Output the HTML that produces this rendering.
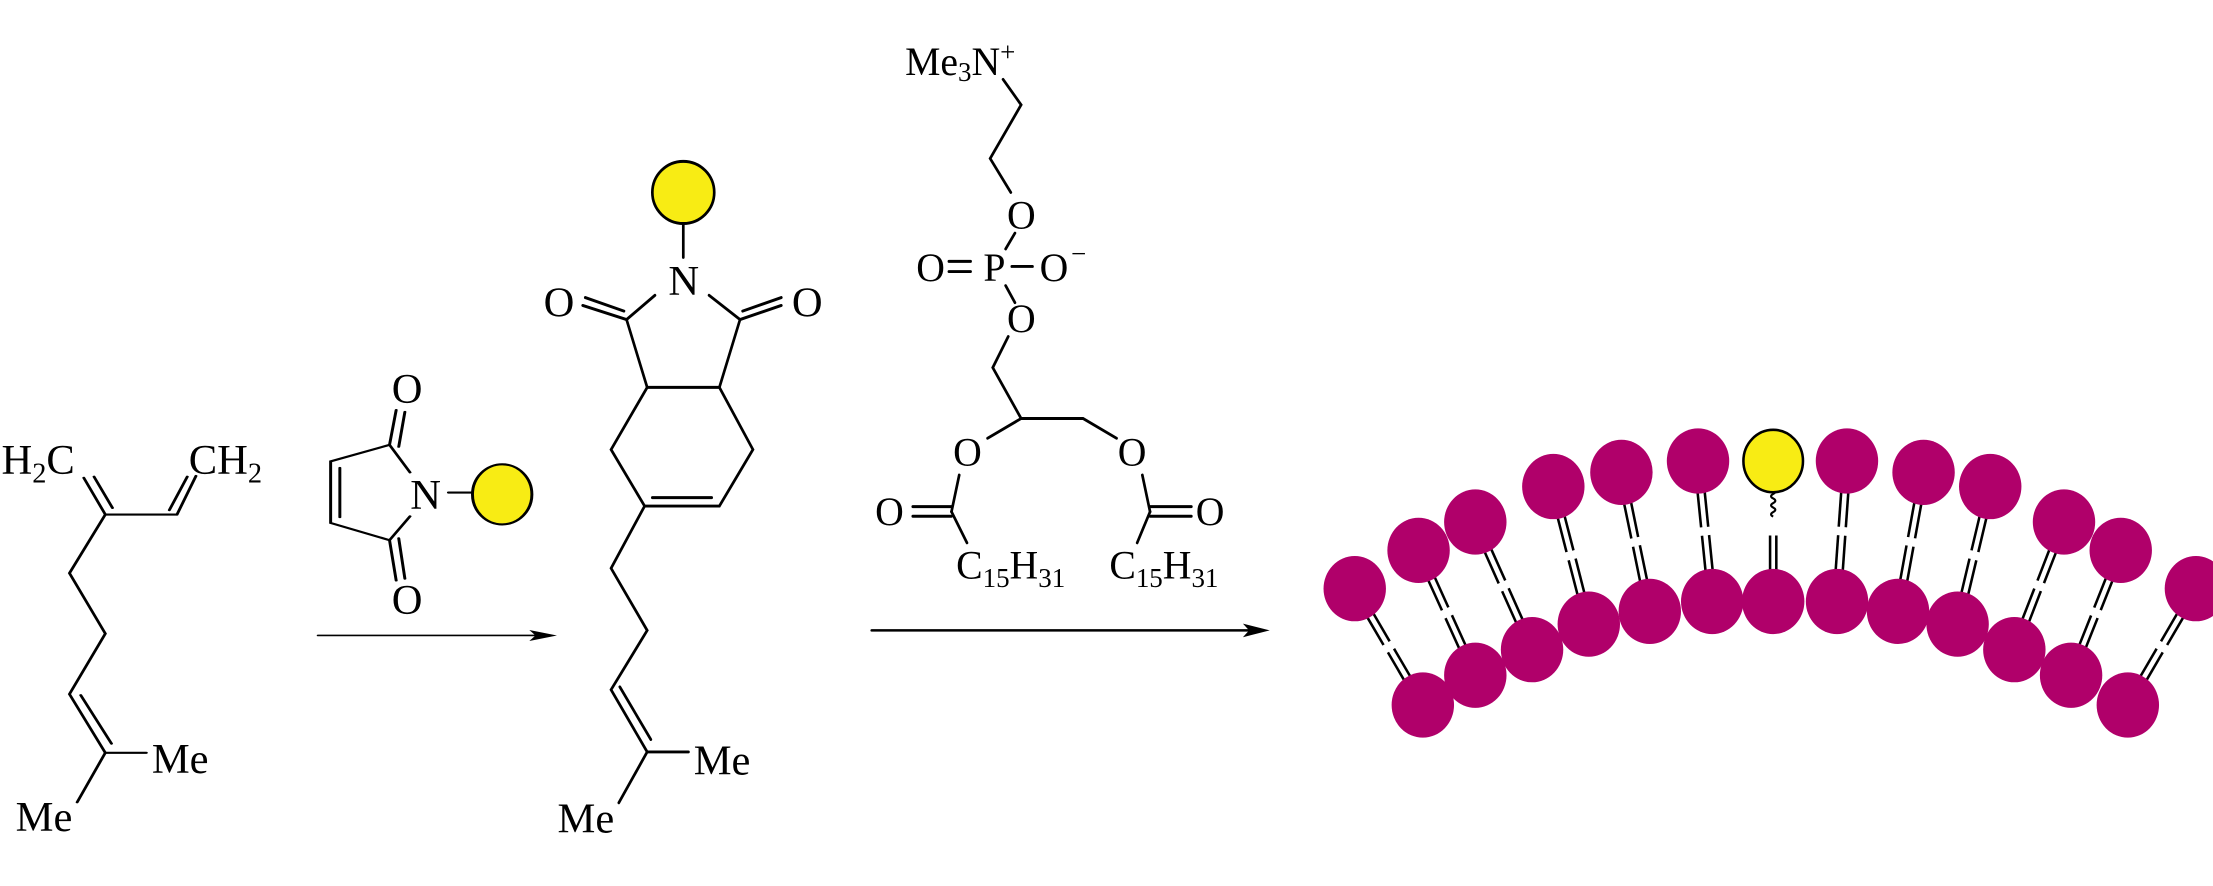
<!DOCTYPE html>
<html><head><meta charset="utf-8"><style>
html,body{margin:0;padding:0;background:#fff;}
svg{display:block;}
text{font-family:"Liberation Serif",serif;fill:#000;}
</style></head><body>
<svg id="s" width="2213" height="886" viewBox="0 0 1560 624.6" xmlns="http://www.w3.org/2000/svg">
<rect x="0" y="0" width="1560" height="624.6" fill="#fff"/>
<g transform="translate(2,333) scale(0.361,0.2584) translate(0,-440)" stroke="#000" stroke-width="5.8" fill="none" stroke-linecap="round">
<line x1="200" y1="555" x2="158" y2="455"/><line x1="178" y1="452" x2="214" y2="537"/>
<line x1="200" y1="555" x2="340" y2="555"/>
<line x1="340" y1="555" x2="377" y2="450"/><line x1="325" y1="543" x2="360" y2="452"/>
<polyline points="200,555 130,715 200,880 130,1045 200,1205"/>
<line x1="152" y1="1048" x2="212" y2="1180"/>
<line x1="200" y1="1205" x2="280" y2="1205"/><line x1="200" y1="1205" x2="145" y2="1340"/>
<polyline points="795,440 755,365 640,410 640,578 755,625 795,560"/>
<line x1="658" y1="428" x2="658" y2="562"/>
<line x1="755" y1="365" x2="768" y2="270"/><line x1="773" y1="370" x2="785" y2="275"/>
<line x1="755" y1="625" x2="768" y2="735"/><line x1="773" y1="620" x2="785" y2="730"/>
<line x1="870" y1="495" x2="915" y2="495"/>
<ellipse cx="975" cy="500" rx="58" ry="82" fill="#F8EC14"/>
<line x1="615" y1="885" x2="1050" y2="885" stroke-width="4.5"/>
<polygon points="1082,885 1028,870 1040,885 1028,900" fill="#000" stroke="none"/>
</g>
<g transform="translate(638,50) scale(0.3636,0.3984) translate(-785,-125)" stroke="#000" stroke-width="5.2" fill="none" stroke-linecap="round">
<ellipse cx="355" cy="340" rx="60" ry="55" fill="#F8EC14"/>
<line x1="355" y1="395" x2="355" y2="455"/>
<line x1="300" y1="522" x2="245" y2="565"/><line x1="405" y1="522" x2="465" y2="565"/>
<line x1="245" y1="565" x2="160" y2="540"/><line x1="240" y1="550" x2="165" y2="526"/>
<line x1="465" y1="565" x2="545" y2="540"/><line x1="470" y1="550" x2="545" y2="526"/>
<polyline points="245,565 285,685 425,685 465,565"/>
<polyline points="285,685 215,795 280,895 425,895 490,795 425,685"/>
<line x1="295" y1="880" x2="410" y2="880"/>
<polyline points="280,895 215,1005 285,1115 215,1220 285,1330"/>
<line x1="232" y1="1215" x2="292" y2="1308"/>
<line x1="285" y1="1330" x2="365" y2="1330"/><line x1="285" y1="1330" x2="230" y2="1420"/>
<polyline points="975,140 1010,185 950,280 990,340"/>
<line x1="980" y1="440" x2="998" y2="412"/><line x1="980" y1="505" x2="998" y2="535"/>
<line x1="870" y1="462" x2="912" y2="462"/><line x1="870" y1="480" x2="912" y2="480"/>
<line x1="992" y1="471" x2="1032" y2="471"/>
<polyline points="985,595 955,650 1010,740 945,775"/>
<polyline points="1010,740 1130,740 1195,775"/>
<line x1="890" y1="840" x2="875" y2="905"/>
<line x1="875" y1="896" x2="800" y2="896"/><line x1="875" y1="913" x2="800" y2="913"/>
<line x1="875" y1="905" x2="905" y2="960"/>
<line x1="1245" y1="840" x2="1260" y2="905"/>
<line x1="1260" y1="896" x2="1340" y2="896"/><line x1="1260" y1="913" x2="1340" y2="913"/>
<line x1="1260" y1="905" x2="1235" y2="960"/>
<line x1="720" y1="1115" x2="1460" y2="1115" stroke-width="4.5"/>
<polygon points="1492,1115 1440,1103 1452,1115 1440,1127" fill="#000" stroke="none"/>
</g>
<g font-size="30">
<text x="1" y="334">H<tspan font-size="20" dy="6">2</tspan><tspan dy="-6">C</tspan></text>
<text x="133" y="334">CH<tspan font-size="20" dy="6">2</tspan></text>
<text x="107" y="545">Me</text>
<text x="11" y="586">Me</text>
<text x="287" y="284" text-anchor="middle">O</text>
<text x="300" y="359" text-anchor="middle">N</text>
<text x="287" y="433" text-anchor="middle">O</text>
<text x="482" y="208" text-anchor="middle">N</text>
<text x="394" y="223" text-anchor="middle">O</text>
<text x="569" y="223" text-anchor="middle">O</text>
<text x="489" y="546">Me</text>
<text x="393" y="587">Me</text>
</g>
<g font-size="28">
<text x="638" y="53">Me<tspan font-size="19" dy="4">3</tspan><tspan dy="-4">N</tspan><tspan font-size="19" dy="-10">+</tspan></text>
<text x="720" y="161" text-anchor="middle">O</text>
<text x="656" y="198" text-anchor="middle">O</text>
<text x="701" y="198" text-anchor="middle">P</text>
<text x="743" y="198" text-anchor="middle">O</text>
<text x="755" y="185" font-size="19">−</text>
<text x="720" y="234" text-anchor="middle">O</text>
<text x="682" y="328" text-anchor="middle">O</text>
<text x="798" y="328" text-anchor="middle">O</text>
<text x="627" y="370" text-anchor="middle">O</text>
<text x="853" y="370" text-anchor="middle">O</text>
<text x="674" y="408">C<tspan font-size="19" dy="6">15</tspan><tspan dy="-6">H</tspan><tspan font-size="19" dy="6">31</tspan></text>
<text x="782" y="408">C<tspan font-size="19" dy="6">15</tspan><tspan dy="-6">H</tspan><tspan font-size="19" dy="6">31</tspan></text>
</g>
<g id="mem"></g>
</svg>
<script>
(function(){
var outer=[[955,415],[1000,388],[1040,368],[1095,343],[1143,333],[1197,325],[1250,325],[1302,325],[1356,333],[1403,343],[1455,368],[1495,388],[1548,415]];
var inner=[[1003,497],[1040,476],[1080,458],[1120,440],[1163,431],[1207,424],[1250,424],[1295,424],[1338,431],[1380,440],[1420,458],[1460,476],[1500,497]];
var r=22,g=document.getElementById('mem'),h='';
function ln(a,b,c,d){return '<line x1="'+a.toFixed(1)+'" y1="'+b.toFixed(1)+'" x2="'+c.toFixed(1)+'" y2="'+d.toFixed(1)+'" stroke="#000" stroke-width="1.8"/>';}
for(var i=0;i<13;i++){
 var o=outer[i],n=inner[i],dx=n[0]-o[0],dy=n[1]-o[1],L=Math.sqrt(dx*dx+dy*dy),ux=dx/L,uy=dy/L,px=-uy,py=ux;
 var sx=o[0]+ux*(r-2),sy=o[1]+uy*(r-2),ex=n[0]-ux*(r-2),ey=n[1]-uy*(r-2);
 var mx=(sx+ex)/2,my=(sy+ey)/2,gp=3;
 if(i==6){
  var p='M'+sx+','+sy;
  for(var k=1;k<=6;k++){var yy=sy+k*3.2;p+=' Q'+(sx+(k%2?3:-3))+','+(yy-1.6)+' '+sx+','+yy;}
  h+='<path d="'+p+'" fill="none" stroke="#000" stroke-width="1.5"/>';
  for(var s=-1;s<=1;s+=2){h+=ln(mx+px*2.2*s,my+gp,ex+px*2.2*s,ey);}
 } else {
  for(var s=-1;s<=1;s+=2){var ox=px*2.5*s,oy=py*2.5*s;
   h+=ln(sx+ox,sy+oy,mx-ux*gp+ox,my-uy*gp+oy);
   h+=ln(mx+ux*gp+ox,my+uy*gp+oy,ex+ox,ey+oy);}
 }
}
for(var i=0;i<13;i++){
 h+='<ellipse cx="'+inner[i][0]+'" cy="'+inner[i][1]+'" rx="22" ry="23" fill="#B0006A"/>';
 if(i==6) h+='<ellipse cx="'+outer[i][0]+'" cy="'+outer[i][1]+'" rx="21" ry="22" fill="#F8EC14" stroke="#000" stroke-width="1.8"/>';
 else h+='<ellipse cx="'+outer[i][0]+'" cy="'+outer[i][1]+'" rx="22" ry="23" fill="#B0006A"/>';
}
g.innerHTML=h;
})();
</script>
</body></html>
